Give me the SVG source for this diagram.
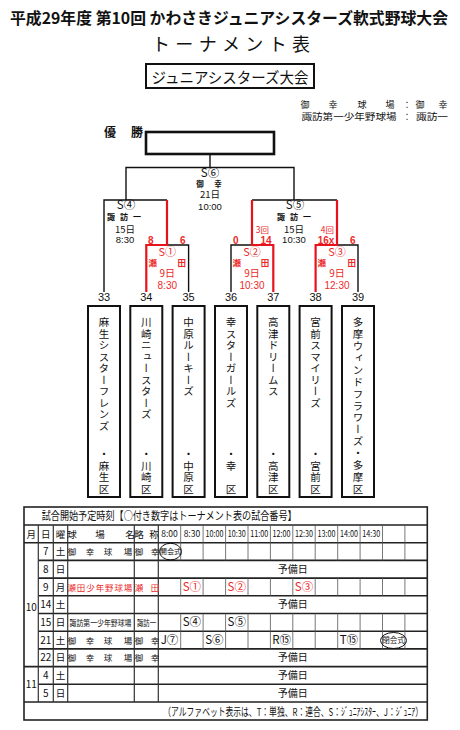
<svg xmlns="http://www.w3.org/2000/svg" width="460" height="730" viewBox="0 0 460 730">
<style>
text{font-family:"Noto Sans CJK JP","Noto Sans CJK SC",sans-serif;fill:#111}
.n{font-family:"Liberation Sans","Noto Sans CJK JP",sans-serif}
.c{text-anchor:middle}
.b{font-weight:bold}
.r{fill:#ec2a2a}
.ln{fill:none;stroke:#111;stroke-width:1.4}
.rl{fill:none;stroke:#e8121c;stroke-width:2.2}
.box{fill:#fff;stroke:#111;stroke-width:2}
.v{writing-mode:vertical-rl;font-size:10.5px;letter-spacing:1px}
.hl{fill:none;stroke:#222;stroke-width:1.6}
.vl{fill:none;stroke:#333;stroke-width:1.2}
.tv{fill:none;stroke:#555;stroke-width:0.8}
</style>
<rect width="460" height="730" fill="#fff"/>
<g id="title">
<text x="229" y="24" class="c b" font-size="15.5" textLength="438" lengthAdjust="spacingAndGlyphs">平成29年度 第10回 かわさきジュニアシスターズ軟式野球大会</text>
<text x="231" y="51" class="c" font-size="18" textLength="158" lengthAdjust="spacing">トーナメント表</text>
<rect x="146" y="64" width="168" height="24" fill="#fff" stroke="#111" stroke-width="2"/>
<text x="230" y="82.5" class="c" font-size="15" textLength="157" lengthAdjust="spacingAndGlyphs">ジュニアシスターズ大会</text>
<text y="107.5" class="c" font-size="9" x="305 333 362 390 407 420 443">御幸球場：御幸</text>
<text x="301.5" y="119.5" font-size="9" textLength="95" lengthAdjust="spacingAndGlyphs">諏訪第一少年野球場</text>
<text x="407" y="119.5" class="c" font-size="9">：</text>
<text x="416" y="119.5" font-size="9" textLength="32" lengthAdjust="spacingAndGlyphs">諏訪一</text>
</g>
<g id="winner">
<text x="110" y="137" class="c b" font-size="12">優</text>
<text x="137" y="137" class="c b" font-size="12">勝</text>
<rect x="146" y="132" width="128" height="22" fill="#fff" stroke="#111" stroke-width="2.6"/>
</g>
<g id="connectors">
<path class="ln" d="M210,154 V167.5 M126,200 V167.5 H294 V200 M104,292 V200 H167 M252,200 H337 M167,245 H188.6 V292 M231,292 V245 H252 M337,245 H358 V292"/>
<path class="rl" d="M167,200 V245 H146.3 V292 M252,200 V245 H273.3 V292 M337,200 V245 H315.6 V292"/>
</g>
<g id="match-s6">
<text x="210" y="177" class="c" font-size="11.5">S⑥</text>
<text y="187" class="c b" font-size="7.5" x="200 218">御幸</text>
<text x="210" y="198" class="c" font-size="9.5">21日</text>
<text x="210" y="210" class="c n" font-size="9.5">10:00</text>
</g>
<g id="match-s4">
<text x="126" y="209" class="c" font-size="11.5">S④</text>
<text y="220" class="c b" font-size="8" x="111 124 137">諏訪一</text>
<text x="125" y="232.5" class="c" font-size="9.5">15日</text>
<text x="125" y="243" class="c n" font-size="9.5">8:30</text>
<text x="150.7" y="243.5" class="c n b r" font-size="10">8</text>
<text x="182.7" y="243.5" class="c n b r" font-size="10">6</text>
</g>
<g id="match-s5">
<text x="295" y="209" class="c" font-size="11.5">S⑤</text>
<text y="220" class="c b" font-size="8" x="281 294 307">諏訪一</text>
<text x="294" y="232.5" class="c" font-size="9.5">15日</text>
<text x="294" y="243" class="c n" font-size="9.5">10:30</text>
<text x="262.3" y="232.5" class="c r" font-size="8.5">3回</text>
<text x="327.3" y="232.5" class="c r" font-size="8.5">4回</text>
<text x="235.7" y="243.5" class="c n b r" font-size="10">0</text>
<text x="266" y="243.5" class="c n b r" font-size="10">14</text>
<text x="326" y="243.5" class="c n b r" font-size="10">16x</text>
<text x="352.7" y="243.5" class="c n b r" font-size="10">6</text>
</g>
<g id="match-s1">
<text x="167.3" y="256" class="c r" font-size="11">S①</text>
<text y="265.5" class="c b r" font-size="8.5" x="152.7 181.7">瀬田</text>
<text x="167.3" y="277" class="c r" font-size="10">9日</text>
<text x="167.3" y="288.5" class="c n r" font-size="10">8:30</text>
</g>
<g id="match-s2">
<text x="252" y="256" class="c r" font-size="11">S②</text>
<text y="265.5" class="c b r" font-size="8.5" x="236.7 265">瀬田</text>
<text x="252" y="277" class="c r" font-size="10">9日</text>
<text x="252" y="288.5" class="c n r" font-size="10">10:30</text>
</g>
<g id="match-s3">
<text x="337" y="256" class="c r" font-size="11">S③</text>
<text y="265.5" class="c b r" font-size="8.5" x="321.7 351.7">瀬田</text>
<text x="337" y="277" class="c r" font-size="10">9日</text>
<text x="337" y="288.5" class="c n r" font-size="10">12:30</text>
</g>
<g id="team33"><text class="n c" x="104" y="301" font-size="11">33</text><rect class="box" x="88" y="306" width="32" height="191"/><text class="v" x="104" y="317">麻生シスターフレンズ</text><text class="v" x="104" y="495" text-anchor="end">・麻生区</text></g>
<g id="team34"><text class="n c" x="146.3" y="301" font-size="11">34</text><rect class="box" x="130.3" y="306" width="32" height="191"/><text class="v" x="146.3" y="317">川崎ニュースターズ</text><text class="v" x="146.3" y="495" text-anchor="end">・川崎区</text></g>
<g id="team35"><text class="n c" x="188.6" y="301" font-size="11">35</text><rect class="box" x="172.6" y="306" width="32" height="191"/><text class="v" x="188.6" y="317">中原ルーキーズ</text><text class="v" x="188.6" y="495" text-anchor="end">・中原区</text></g>
<g id="team36"><text class="n c" x="231" y="301" font-size="11">36</text><rect class="box" x="215" y="306" width="32" height="191"/><text class="v" x="231" y="317">幸スターガールズ</text><text class="v" x="231" y="495" text-anchor="end">・幸　区</text></g>
<g id="team37"><text class="n c" x="273.3" y="301" font-size="11">37</text><rect class="box" x="257.3" y="306" width="32" height="191"/><text class="v" x="273.3" y="317">高津ドリームス</text><text class="v" x="273.3" y="495" text-anchor="end">・高津区</text></g>
<g id="team38"><text class="n c" x="315.6" y="301" font-size="11">38</text><rect class="box" x="299.6" y="306" width="32" height="191"/><text class="v" x="315.6" y="317">宮前スマイリーズ</text><text class="v" x="315.6" y="495" text-anchor="end">・宮前区</text></g>
<g id="team39"><text class="n c" x="358" y="301" font-size="11">39</text><rect class="box" x="342" y="306" width="32" height="191"/><text class="v" x="358" y="317" style="letter-spacing:1.4px">多摩ウィンドフラワーズ・多摩区</text></g>
<g id="schedule">
<rect x="24" y="507" width="403.3" height="213" fill="none" stroke="#222" stroke-width="1.6"/>
<path class="hl" d="M24,525 H427.3 M24,542.7 H427.3 M38.3,560.4 H427.3 M38.3,578.1 H427.3 M38.3,595.8 H427.3 M38.3,613.5 H427.3 M38.3,631.2 H427.3 M38.3,648.9 H427.3 M24,666.6 H427.3 M38.3,684.3 H427.3 M24,702 H427.3"/>
<path class="vl" d="M38.3,525 V702 M53.3,525 V702 M67.7,525 V702 M134.3,525 V702 M158.3,525 V702"/>
<path class="tv" d="M180.7,525 V560.4 M180.7,578.1 V595.8 M180.7,613.5 V648.9 M203.1,525 V560.4 M203.1,578.1 V595.8 M203.1,613.5 V648.9 M225.6,525 V560.4 M225.6,578.1 V595.8 M225.6,613.5 V648.9 M248,525 V560.4 M248,578.1 V595.8 M248,613.5 V648.9 M270.4,525 V560.4 M270.4,578.1 V595.8 M270.4,613.5 V648.9 M292.8,525 V560.4 M292.8,578.1 V595.8 M292.8,613.5 V648.9 M315.2,525 V560.4 M315.2,578.1 V595.8 M315.2,613.5 V648.9 M337.7,525 V560.4 M337.7,578.1 V595.8 M337.7,613.5 V648.9 M360.1,525 V560.4 M360.1,578.1 V595.8 M360.1,613.5 V648.9 M382.5,525 V560.4 M382.5,578.1 V595.8 M382.5,613.5 V648.9 M404.9,525 V560.4 M404.9,578.1 V595.8 M404.9,613.5 V648.9"/>
<text x="41.7" y="520" font-size="11.5" textLength="255" lengthAdjust="spacingAndGlyphs">試合開始予定時刻【○付き数字はトーナメント表の試合番号】</text>
<text y="537.5" class="c" font-size="9.5" x="31.2 45.8 60.5 72 100 130 139 154">月日曜球場名略称</text>
<g class="n c" font-size="8.5">
<text x="169.5" y="537">8:00</text><text x="191.9" y="537">8:30</text>
<text x="214.4" y="537" textLength="18" lengthAdjust="spacingAndGlyphs">10:00</text>
<text x="236.8" y="537" textLength="18" lengthAdjust="spacingAndGlyphs">10:30</text>
<text x="259.2" y="537" textLength="18" lengthAdjust="spacingAndGlyphs">11:00</text>
<text x="281.6" y="537" textLength="18" lengthAdjust="spacingAndGlyphs">12:00</text>
<text x="304" y="537" textLength="18" lengthAdjust="spacingAndGlyphs">12:30</text>
<text x="326.5" y="537" textLength="18" lengthAdjust="spacingAndGlyphs">13:00</text>
<text x="348.9" y="537" textLength="18" lengthAdjust="spacingAndGlyphs">14:00</text>
<text x="371.3" y="537" textLength="18" lengthAdjust="spacingAndGlyphs">14:30</text>
</g>
<g class="n c" font-size="10">
<text x="45.8" y="555">7</text><text x="45.8" y="572.8">8</text><text x="45.8" y="590.5">9</text><text x="45.8" y="608.2">14</text><text x="45.8" y="625.9">15</text><text x="45.8" y="643.6">21</text><text x="45.8" y="661.3">22</text><text x="45.8" y="679">4</text><text x="45.8" y="696.7">5</text>
<text x="31.2" y="610.5">10</text><text x="31.2" y="688">11</text>
</g>
<g class="c" font-size="9.5">
<text x="60.5" y="555">土</text><text x="60.5" y="572.8">日</text><text x="60.5" y="590.5">月</text><text x="60.5" y="608.2">土</text><text x="60.5" y="625.9">日</text><text x="60.5" y="643.6">土</text><text x="60.5" y="661.3">日</text><text x="60.5" y="679">土</text><text x="60.5" y="696.7">日</text>
</g>
<g class="c" font-size="8.5">
<text y="555" x="72 90 108 128">御幸球場</text><text y="555" x="139 155">御幸</text>
<text y="590.5" class="r" x="71.7 81.1 90.5 99.9 109.3 118.7 128.1">瀬田少年野球場</text><text y="590.5" class="r" x="139 155">瀬田</text>
<text y="643.6" x="72 90 108 128">御幸球場</text><text y="643.6" x="139 155">御幸</text>
<text y="661.3" x="72 90 108 128">御幸球場</text><text y="661.3" x="139 155">御幸</text>
</g>
<text x="69.5" y="625.9" font-size="8.5" textLength="62" lengthAdjust="spacingAndGlyphs">諏訪第一少年野球場</text>
<text x="137" y="625.9" font-size="8.5" textLength="19" lengthAdjust="spacingAndGlyphs">諏訪一</text>
<g class="c" font-size="10">
<text x="292.8" y="572.8">予備日</text><text x="292.8" y="608.2">予備日</text><text x="292.8" y="679">予備日</text><text x="292.8" y="661.3">予備日</text><text x="292.8" y="696.7">予備日</text>
</g>
<g class="c" font-size="11.5">
<text class="r" x="191.9" y="591">S①</text><text class="r" x="236.8" y="591">S②</text><text class="r" x="304" y="591">S③</text>
<text x="191.9" y="626.4">S④</text><text x="236.8" y="626.4">S⑤</text>
<text x="169.5" y="644.1">J⑦</text><text x="214.4" y="644.1">S⑥</text><text x="281.6" y="644.1">R⑮</text><text x="348.9" y="644.1">T⑮</text>
</g>
<ellipse cx="170.5" cy="551.6" rx="11" ry="8.3" fill="none" stroke="#111" stroke-width="1"/>
<text x="170.5" y="554.3" class="c" font-size="7.2">開会式</text>
<ellipse cx="393.5" cy="640.5" rx="13" ry="8" fill="none" stroke="#111" stroke-width="1"/>
<text x="393.5" y="643.2" class="c" font-size="7.5">閉会式</text>
<text x="163.3" y="715.5" font-size="11" textLength="259.7" lengthAdjust="spacingAndGlyphs">（アルファベット表示は、T：単独、R：連合、S：ｼﾞｭﾆｱｼｽﾀｰ、J：ｼﾞｭﾆｱ）</text>
</g>
</svg>
